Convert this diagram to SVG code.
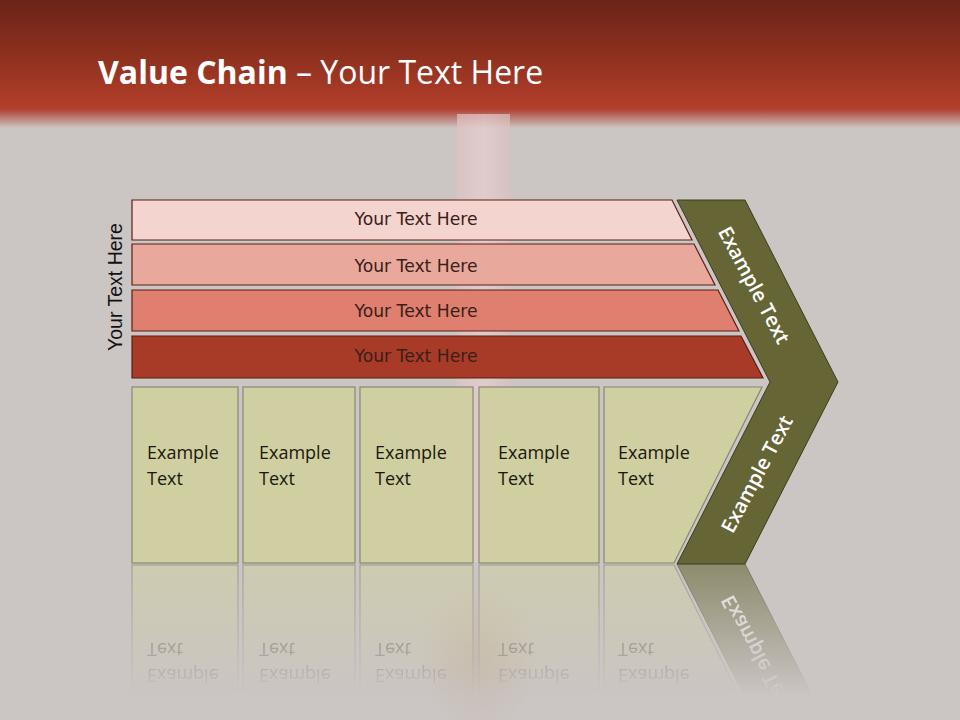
<svg xmlns="http://www.w3.org/2000/svg" xmlns:xlink="http://www.w3.org/1999/xlink" width="960" height="720" viewBox="0 0 960 720">
  <defs>
    <linearGradient id="hdr" x1="0" y1="0" x2="0" y2="1">
      <stop offset="0" stop-color="#6b2318"/>
      <stop offset="0.45" stop-color="#8f311f"/>
      <stop offset="0.84" stop-color="#b33e2b"/>
      <stop offset="0.86" stop-color="#b0473a"/>
      <stop offset="1" stop-color="#cbc5c3"/>
    </linearGradient>
    <linearGradient id="beam" x1="0" y1="0" x2="1" y2="0">
      <stop offset="0" stop-color="#dfc3c3"/>
      <stop offset="0.5" stop-color="#e8cfcf"/>
      <stop offset="1" stop-color="#dcc0c0"/>
    </linearGradient>
    <radialGradient id="vase" cx="0.5" cy="0.5" r="0.5">
      <stop offset="0" stop-color="#b8986a" stop-opacity="0.22"/>
      <stop offset="1" stop-color="#b8986a" stop-opacity="0"/>
    </radialGradient>
    <linearGradient id="fade" gradientUnits="userSpaceOnUse" x1="0" y1="565" x2="0" y2="695">
      <stop offset="0" stop-color="#fff" stop-opacity="0.6"/>
      <stop offset="1" stop-color="#fff" stop-opacity="0"/>
    </linearGradient>
    <mask id="reflMask" maskUnits="userSpaceOnUse" x="0" y="564" width="960" height="156">
      <rect x="0" y="564" width="960" height="156" fill="url(#fade)"/>
    </mask>
    <style>
      .row { stroke: #5c1e14; stroke-width: 1.2; }
      .rowtxt { font-family: "DejaVu Sans", "Noto Sans", sans-serif; font-size: 17.2px; fill: #3a2018; text-anchor: middle; }
      .box { fill: #d0cfa2; stroke: #8a8676; stroke-width: 1.2; }
      .boxtxt { font-family: "Open Sans", "Noto Sans", sans-serif; font-size: 18px; fill: #1a180c; }
      .chev { fill: #656535; stroke: #3c3c1e; stroke-width: 1; }
      .chevtxt { font-family: "Open Sans", "Noto Sans", sans-serif; font-size: 20px; font-weight: 600; fill: #ffffff; text-anchor: middle; }
    </style>
  </defs>

  <!-- background -->
  <rect x="0" y="0" width="960" height="720" fill="#cbc5c3"/>
  <rect x="0" y="0" width="960" height="128" fill="url(#hdr)"/>
  <rect x="457" y="114" width="53" height="448" fill="url(#beam)" opacity="0.7"/>
  <ellipse cx="478" cy="655" rx="60" ry="75" fill="url(#vase)"/>

  <!-- title -->
  <g id="title">
    <text x="98" y="84" font-family="Open Sans, Noto Sans, sans-serif" font-size="32" fill="#ffffff"><tspan font-weight="bold">Value Chain</tspan> – Your Text Here</text>
  </g>

  <!-- side label -->
  <g id="side-label">
    <text x="0" y="0" transform="translate(122,287) rotate(-90)" font-family="Liberation Sans, Arial, sans-serif" font-size="19.5" fill="#111111" text-anchor="middle">Your Text Here</text>
  </g>

  <!-- rows -->
  <g id="row1">
    <polygon class="row" fill="#f4d4cf" points="132,200 672,200 692,240 132,240"/>
    <text class="rowtxt" x="416" y="225">Your Text Here</text>
  </g>
  <g id="row2">
    <polygon class="row" fill="#e8a89c" points="132,244 694,244 715,285 132,285"/>
    <text class="rowtxt" x="416" y="272">Your Text Here</text>
  </g>
  <g id="row3">
    <polygon class="row" fill="#de7f6f" points="132,290 718,290 739,331 132,331"/>
    <text class="rowtxt" x="416" y="317">Your Text Here</text>
  </g>
  <g id="row4">
    <polygon class="row" fill="#a83a28" points="132,336 741,336 763,378 132,378"/>
    <text class="rowtxt" x="416" y="362" fill="#3a1810">Your Text Here</text>
  </g>

  <!-- chevron -->
  <g id="chevron">
    <polygon class="chev" points="677,200 745,200 838,382 745,564 677,564 770,382"/>
    <text class="chevtxt" x="0" y="0" transform="translate(754,285) rotate(62)" dy="7">Example Text</text>
    <text class="chevtxt" x="0" y="0" transform="translate(757,474) rotate(-62)" dy="7">Example Text</text>
  </g>

  <!-- bottom boxes -->
  <g id="boxes">
    <g id="box1">
      <rect class="box" x="132" y="387" width="106" height="176"/>
      <text class="boxtxt" x="147" y="459">Example</text>
      <text class="boxtxt" x="147" y="485">Text</text>
    </g>
    <g id="box2">
      <rect class="box" x="243" y="387" width="112" height="176"/>
      <text class="boxtxt" x="259" y="459">Example</text>
      <text class="boxtxt" x="259" y="485">Text</text>
    </g>
    <g id="box3">
      <rect class="box" x="360" y="387" width="113" height="176"/>
      <text class="boxtxt" x="375" y="459">Example</text>
      <text class="boxtxt" x="375" y="485">Text</text>
    </g>
    <g id="box4">
      <rect class="box" x="479" y="387" width="120" height="176"/>
      <text class="boxtxt" x="498" y="459">Example</text>
      <text class="boxtxt" x="498" y="485">Text</text>
    </g>
    <g id="box5">
      <polygon class="box" points="604,387 762,387 674,563 604,563"/>
      <text class="boxtxt" x="618" y="459">Example</text>
      <text class="boxtxt" x="618" y="485">Text</text>
    </g>
  </g>

  <!-- reflection -->
  <g id="reflection" mask="url(#reflMask)">
    <g transform="translate(0,1128) scale(1,-1)">
      <use xlink:href="#boxes"/>
      <use xlink:href="#chevron"/>
    </g>
  </g>

  <!-- connectors: none shown -->
  <g id="connectors"/>
</svg>
